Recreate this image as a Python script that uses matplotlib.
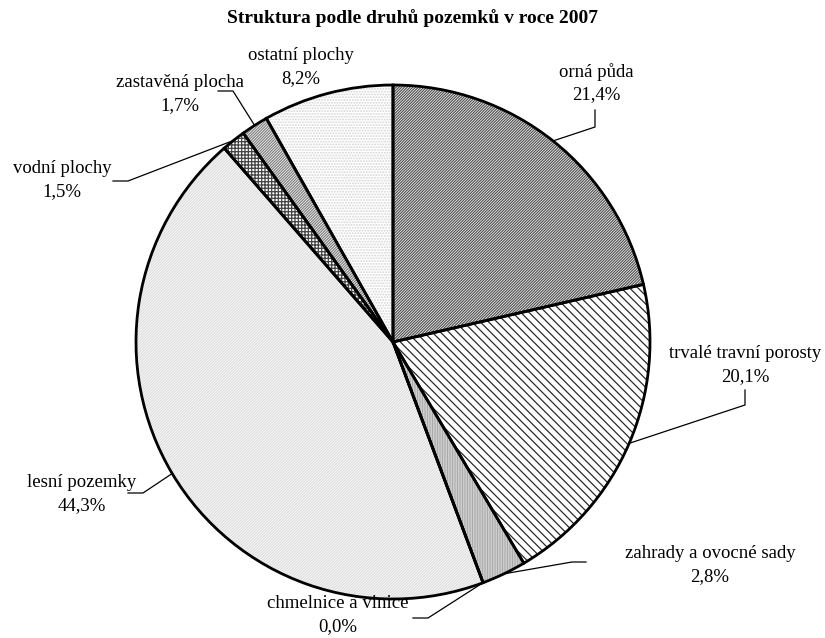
import numpy as np
import matplotlib
matplotlib.use('Agg')
import matplotlib.pyplot as plt

plt.rcParams['font.family'] = ['Liberation Serif', 'DejaVu Serif']
plt.rcParams['hatch.linewidth'] = 0.9

# data
categories = ['orná půda', 'trvalé travní porosty', 'zahrady a ovocné sady',
              'chmelnice a vinice', 'lesní pozemky', 'vodní plochy',
              'zastavěná plocha', 'ostatní plochy']
shares = [21.4, 20.1, 2.8, 0.0, 44.3, 1.5, 1.7, 8.2]

# styles (Excel-like fill patterns)
hatches = ['/' * 12, '\\' * 4, '|' * 10, '', '/' * 12, '+' * 5, '/' * 12, '.' * 6]
hatch_colors = ['#555555', '#2a2a2a', '#aaaaaa', '#ffffff', '#dddddd',
                '#444444', '#808080', '#d4d4d4']

# pie geometry in pixels (centre and radius)
W, H = 825, 638
cx, cy, r = 393, 342, 257


def px(x, y):
    return ((x - cx) / r, (cy - y) / r)


fig = plt.figure(figsize=(W / 100, H / 100), dpi=100)
ax = fig.add_axes([(cx - r) / W, (H - cy - r) / H, 2 * r / W, 2 * r / H])

# pass 1: hatched fills
wedges, _ = ax.pie(shares, startangle=90, counterclock=False, radius=1,
                   colors=['white'] * len(shares), hatch=hatches,
                   wedgeprops=dict(linewidth=0))
for w, c in zip(wedges, hatch_colors):
    w.set_edgecolor(c)

# pass 2: black outlines
outl, _ = ax.pie(shares, startangle=90, counterclock=False, radius=1,
                 colors=['none'] * len(shares),
                 wedgeprops=dict(linewidth=2, edgecolor='black', fill=False))

ax.set_xlim(-1, 1)
ax.set_ylim(-1, 1)
ax.set_aspect('auto')
ax.axis('off')

# label text centres and leader lines (elbow, end) in pixels
label_pos = [(596, 83), (745, 365), (710, 565), (338, 615),
             (82, 494), (62, 180), (180, 94), (301, 67)]
leaders = [((595, 127), (595, 110)), ((745, 405), (745, 390)),
           ((572, 562), (586, 562)), ((428, 618), (413, 618)),
           ((143, 493), (128, 493)), ((128, 181), (113, 181)),
           ((233, 91), (218, 91)), None]

for i, (w, name, val) in enumerate(zip(outl, categories, shares)):
    lx, ly = px(*label_pos[i])
    ax.text(lx, ly, f'{name}\n{val:.1f}%'.replace('.', ','), ha='center',
            va='center', fontsize=13.5, linespacing=1.45, clip_on=False)
    if leaders[i] is not None:
        ang = np.deg2rad((w.theta1 + w.theta2) / 2)
        ex, ey = w.r * np.cos(ang), w.r * np.sin(ang)
        (bx, by), (tx, ty) = px(*leaders[i][0]), px(*leaders[i][1])
        ax.plot([ex, bx, tx], [ey, by, ty], color='black', lw=0.9,
                clip_on=False)

fig.text(0.5, 1 - 18 / H, 'Struktura podle druhů pozemků v roce 2007',
         ha='center', va='center', fontsize=14, fontweight='bold')

fig.savefig('out.png', dpi=100)
